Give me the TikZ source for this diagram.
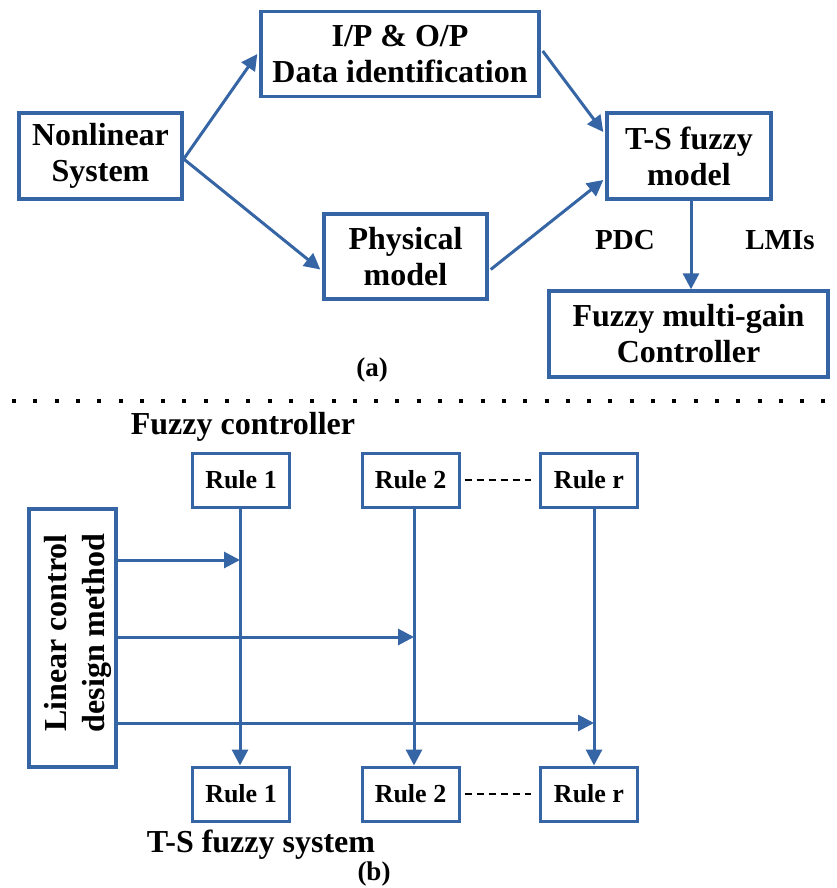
\documentclass[tikz,border=0pt]{standalone}
\usepackage{fontspec}
\setmainfont{Liberation Serif}
\usetikzlibrary{arrows.meta,calc}
\definecolor{dblue}{RGB}{54,101,165}
\begin{document}
\begin{tikzpicture}[x=1pt,y=-1pt,
  bigbox/.style={draw=dblue,line width=3.4pt,rectangle,align=center,inner sep=0pt,
    font=\fontsize{32}{36}\selectfont\bfseries},
  rulebox/.style={draw=dblue,line width=3pt,rectangle,inner sep=0pt,
    minimum width=97pt,minimum height=54pt,font=\fontsize{26}{30}\selectfont\bfseries},
  arr/.style={draw=dblue,line width=3pt,-{Triangle[length=16pt,width=16pt]}},
  lbl/.style={inner sep=0pt,font=\fontsize{29}{33}\selectfont\bfseries},
  ttl/.style={inner sep=0pt,font=\fontsize{32}{36}\selectfont\bfseries},
  captxt/.style={inner sep=0pt,font=\fontsize{27}{30}\selectfont\bfseries},
  dash6/.style={draw=black,line width=2.6pt,dash pattern=on 7pt off 5pt}]
\useasboundingbox (0,0) rectangle (837,888);
% ---------- (a) ----------
\node[bigbox,minimum width=163pt,minimum height=86pt] (nl) at (100.5,156) {Nonlinear\\System};
\node[bigbox,minimum width=278pt,minimum height=85pt] (ip) at (400,54) {I/P \& O/P\\Data identification};
\node[bigbox,minimum width=163pt,minimum height=85pt] (pm) at (405.5,256.5) {Physical\\model};
\node[bigbox,minimum width=164pt,minimum height=86pt] (ts) at (689,156) {T-S fuzzy\\model};
\node[bigbox,minimum width=279pt,minimum height=86pt] (fm) at (688.5,334) {Fuzzy multi-gain\\Controller};
\draw[arr] ($(nl.east)+(0,3)$) -- ($(ip.west)+(-2,0)$);
\draw[arr] ($(nl.east)+(0,3)$) -- ($(pm.west)+(-2,13)$);
\draw[arr] ($(ip.east)+(2,-3)$) -- ($(ts.west)+(-2,-24)$);
\draw[arr] ($(pm.east)+(2,13)$) -- ($(ts.west)+(-2,24)$);
\coordinate (tsb) at ($(ts.south)+(2,0)$);
\draw[arr] (tsb) -- (tsb |- fm.north);
\node[lbl] (pdc) at (625,240) {PDC};
\node[lbl] (lmi) at (780,240) {LMIs};
\node[captxt] (capa) at (372,370) {(a)};
\coordinate (d1) at (12,400.5);
\coordinate (d2) at (837,400.5);
\draw[line width=4pt,dash pattern=on 4pt off 17.3pt] (d1) -- (d2);
% ---------- (b) ----------
\node[ttl] (fc) at (243,427) {Fuzzy controller};
\node[rulebox] (r1t) at (241,480) {Rule 1};
\node[rulebox] (r2t) at (410.5,480) {Rule 2};
\node[rulebox] (rrt) at (589,480) {Rule r};
\node[rulebox] (r1b) at (241,794) {Rule 1};
\node[rulebox] (r2b) at (410.5,794) {Rule 2};
\node[rulebox] (rrb) at (589,794) {Rule r};
\node[draw=dblue,line width=3.4pt,rectangle,minimum width=87pt,minimum height=258pt,inner sep=0pt] (lin) at (72.5,638) {};
\node[rotate=90,align=center,inner sep=0pt,font=\fontsize{32}{38}\selectfont\bfseries] (lintxt) at (78,633) {Linear control\\design method};
\draw[dash6] ($(r2t.east)+(4,0)$) -- ($(rrt.west)+(-8,0)$);
\draw[dash6] ($(r2b.east)+(4,0)$) -- ($(rrb.west)+(-8,0)$);
\coordinate (v1) at ($(r1t.south)+(-1,0)$);
\coordinate (v2) at ($(r2t.south)+(3.5,0)$);
\coordinate (v3) at ($(rrt.south)+(5,0)$);
\draw[arr] (v1) -- (v1 |- r1b.north);
\draw[arr] (v2) -- (v2 |- r2b.north);
\draw[arr] (v3) -- (v3 |- rrb.north);
\coordinate (h1) at (0,560);
\coordinate (h2) at (0,637);
\coordinate (h3) at (0,723);
\draw[arr] (lin.east |- h1) -- (v1 |- h1);
\draw[arr] (lin.east |- h2) -- (v2 |- h2);
\draw[arr] (lin.east |- h3) -- (v3 |- h3);
\node[ttl] (tsf) at (261,845) {T-S fuzzy system};
\node[captxt] (capb) at (374,874) {(b)};
\end{tikzpicture}
\end{document}
